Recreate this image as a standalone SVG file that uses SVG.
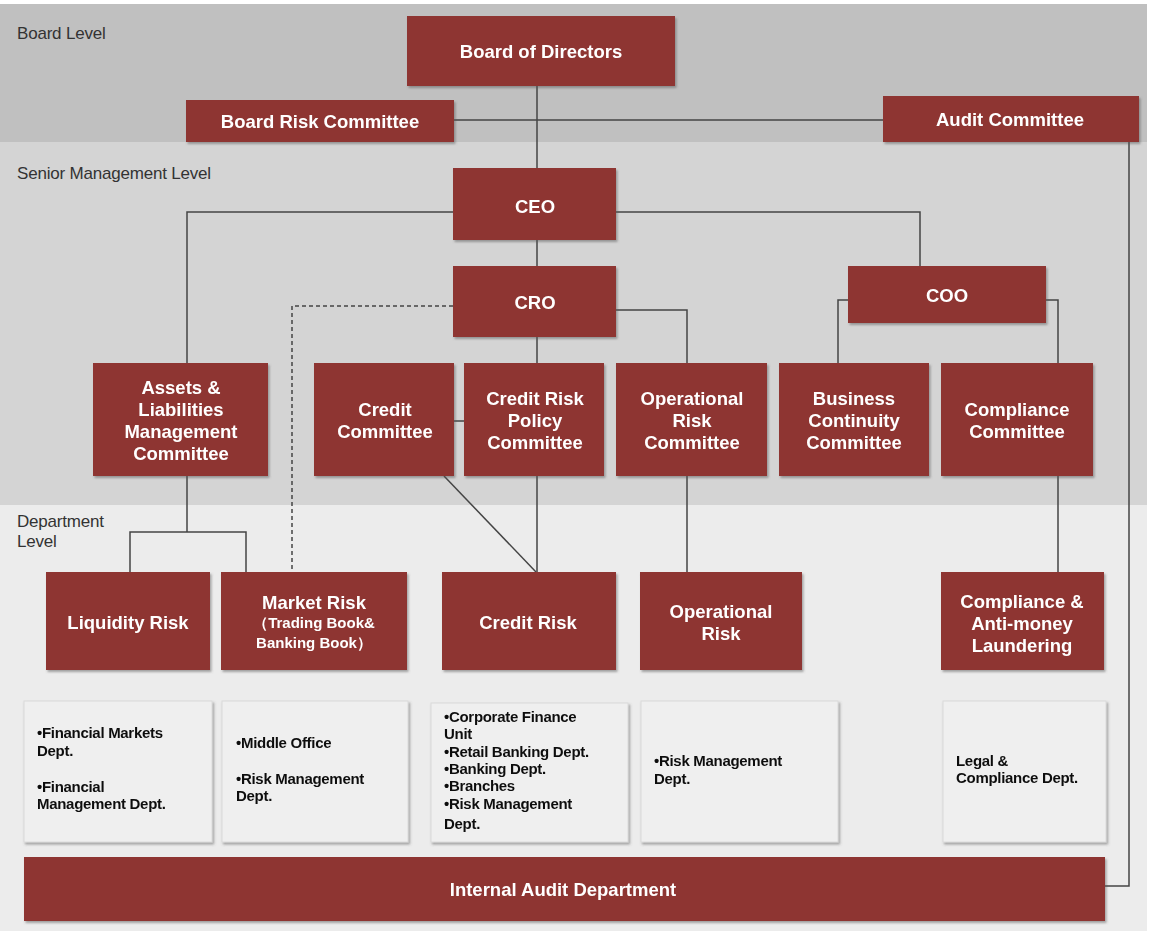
<svg xmlns="http://www.w3.org/2000/svg" width="1150" height="931" viewBox="0 0 1150 931">
<style>
.band-label{font-family:"Liberation Sans",Arial,sans-serif;font-size:17px;fill:#333;letter-spacing:-0.2px}
.box{fill:#8e3432}
.t{font-family:"Liberation Sans",Arial,sans-serif;font-size:18.5px;font-weight:bold;fill:#fff;text-anchor:middle}
.ts{font-family:"Liberation Sans",Arial,sans-serif;font-size:15px;font-weight:bold;fill:#fff;text-anchor:middle}
.lbox{fill:#efefef;stroke:#dadada;stroke-width:1}
.lt{font-family:"Liberation Sans",Arial,sans-serif;font-size:15px;font-weight:bold;fill:#111;letter-spacing:-0.3px}
.c{fill:none;stroke:#444;stroke-width:1.5}
.d{fill:none;stroke:#444;stroke-width:1.5;stroke-dasharray:4 3}
</style>
<defs>
<filter id="sh" x="-5%" y="-5%" width="115%" height="120%">
<feDropShadow dx="1.5" dy="2" stdDeviation="1.2" flood-color="#555" flood-opacity="0.5"/>
</filter>
</defs>
<rect x="0" y="0" width="1150" height="931" fill="#ffffff"/>
<rect x="0" y="4" width="1147" height="138" fill="#c0c0c0"/>
<rect x="0" y="142" width="1147" height="363" fill="#d4d4d4"/>
<rect x="0" y="505" width="1147" height="426" fill="#ececec"/>
<text class="band-label" x="17" y="39">Board Level</text>
<text class="band-label" x="17" y="179">Senior Management Level</text>
<text class="band-label" x="17" y="527">Department</text>
<text class="band-label" x="17" y="547">Level</text>

<g id="connectors">
<path class="c" d="M537 86 V168"/>
<path class="c" d="M454 120 H883"/>
<path class="c" d="M1129 142 V886 H1105"/>
<path class="c" d="M453 212 H187 V363"/>
<path class="c" d="M616 212 H920 V266"/>
<path class="c" d="M537 240 V266"/>
<path class="d" d="M453 306 H292 V572"/>
<path class="c" d="M616 310 H687 V363"/>
<path class="c" d="M537 337 V363"/>
<path class="c" d="M848 300 H838 V363"/>
<path class="c" d="M1046 300 H1058 V363"/>
<path class="c" d="M454 421 H464"/>
<path class="c" d="M187 476 V532"/>
<path class="c" d="M130 572 V532 H246 V572"/>
<path class="c" d="M444 476 L536 572"/>
<path class="c" d="M537 476 V572"/>
<path class="c" d="M687 476 V572"/>
<path class="c" d="M1058 476 V572"/>
</g>

<g id="board-of-directors" filter="url(#sh)"><rect class="box" x="407" y="16" width="268" height="70"/><text class="t" x="541" y="58">Board of Directors</text></g>
<g id="board-risk-committee" filter="url(#sh)"><rect class="box" x="186" y="100" width="268" height="42"/><text class="t" x="320" y="128">Board Risk Committee</text></g>
<g id="audit-committee" filter="url(#sh)"><rect class="box" x="883" y="96" width="256" height="46"/><text class="t" x="1010" y="126">Audit Committee</text></g>
<g id="ceo" filter="url(#sh)"><rect class="box" x="453" y="168" width="163" height="72"/><text class="t" x="535" y="213">CEO</text></g>
<g id="cro" filter="url(#sh)"><rect class="box" x="453" y="266" width="163" height="71"/><text class="t" x="535" y="309">CRO</text></g>
<g id="coo" filter="url(#sh)"><rect class="box" x="848" y="266" width="198" height="57"/><text class="t" x="947" y="302">COO</text></g>

<g id="alm-committee" filter="url(#sh)"><rect class="box" x="93" y="363" width="175" height="113"/><text class="t" x="181" y="394">Assets &amp;</text><text class="t" x="181" y="416">Liabilities</text><text class="t" x="181" y="438">Management</text><text class="t" x="181" y="460">Committee</text></g>
<g id="credit-committee" filter="url(#sh)"><rect class="box" x="314" y="363" width="140" height="113"/><text class="t" x="385" y="416">Credit</text><text class="t" x="385" y="438">Committee</text></g>
<g id="credit-risk-policy-committee" filter="url(#sh)"><rect class="box" x="464" y="363" width="140" height="113"/><text class="t" x="535" y="405">Credit Risk</text><text class="t" x="535" y="427">Policy</text><text class="t" x="535" y="449">Committee</text></g>
<g id="operational-risk-committee" filter="url(#sh)"><rect class="box" x="616" y="363" width="151" height="113"/><text class="t" x="692" y="405">Operational</text><text class="t" x="692" y="427">Risk</text><text class="t" x="692" y="449">Committee</text></g>
<g id="business-continuity-committee" filter="url(#sh)"><rect class="box" x="779" y="363" width="150" height="113"/><text class="t" x="854" y="405">Business</text><text class="t" x="854" y="427">Continuity</text><text class="t" x="854" y="449">Committee</text></g>
<g id="compliance-committee" filter="url(#sh)"><rect class="box" x="941" y="363" width="152" height="113"/><text class="t" x="1017" y="416">Compliance</text><text class="t" x="1017" y="438">Committee</text></g>

<g id="liquidity-risk" filter="url(#sh)"><rect class="box" x="46" y="572" width="164" height="98"/><text class="t" x="128" y="629">Liquidity Risk</text></g>
<g id="market-risk" filter="url(#sh)"><rect class="box" x="221" y="572" width="186" height="98"/><text class="t" x="314" y="609">Market Risk</text><text class="ts" x="314" y="628">（Trading Book&amp;</text><text class="ts" x="314" y="648">Banking Book）</text></g>
<g id="credit-risk" filter="url(#sh)"><rect class="box" x="442" y="572" width="174" height="98"/><text class="t" x="528" y="629">Credit Risk</text></g>
<g id="operational-risk" filter="url(#sh)"><rect class="box" x="640" y="572" width="162" height="98"/><text class="t" x="721" y="618">Operational</text><text class="t" x="721" y="640">Risk</text></g>
<g id="compliance-aml" filter="url(#sh)"><rect class="box" x="941" y="572" width="163" height="98"/><text class="t" x="1022" y="608">Compliance &amp;</text><text class="t" x="1022" y="630">Anti-money</text><text class="t" x="1022" y="652">Laundering</text></g>

<g id="dept-list-liquidity" filter="url(#sh)"><rect class="lbox" x="24" y="701" width="188" height="141"/><text class="lt" x="37" y="738">•Financial Markets</text><text class="lt" x="37" y="756">Dept.</text><text class="lt" x="37" y="792">•Financial</text><text class="lt" x="37" y="809">Management Dept.</text></g>
<g id="dept-list-market" filter="url(#sh)"><rect class="lbox" x="222" y="701" width="186" height="141"/><text class="lt" x="236" y="748">•Middle Office</text><text class="lt" x="236" y="784">•Risk Management</text><text class="lt" x="236" y="801">Dept.</text></g>
<g id="dept-list-credit" filter="url(#sh)"><rect class="lbox" x="431" y="703" width="197" height="139"/><text class="lt" x="444" y="722">•Corporate Finance</text><text class="lt" x="444" y="739">Unit</text><text class="lt" x="444" y="757">•Retail Banking Dept.</text><text class="lt" x="444" y="774">•Banking Dept.</text><text class="lt" x="444" y="791">•Branches</text><text class="lt" x="444" y="809">•Risk Management</text><text class="lt" x="444" y="829">Dept.</text></g>
<g id="dept-list-operational" filter="url(#sh)"><rect class="lbox" x="641" y="701" width="197" height="141"/><text class="lt" x="654" y="766">•Risk Management</text><text class="lt" x="654" y="784">Dept.</text></g>
<g id="dept-list-compliance" filter="url(#sh)"><rect class="lbox" x="943" y="701" width="163" height="141"/><text class="lt" x="956" y="766">Legal &amp;</text><text class="lt" x="956" y="783">Compliance Dept.</text></g>

<g id="internal-audit" filter="url(#sh)"><rect class="box" x="24" y="857" width="1081" height="64"/><text class="t" x="563" y="896">Internal Audit Department</text></g>
</svg>
